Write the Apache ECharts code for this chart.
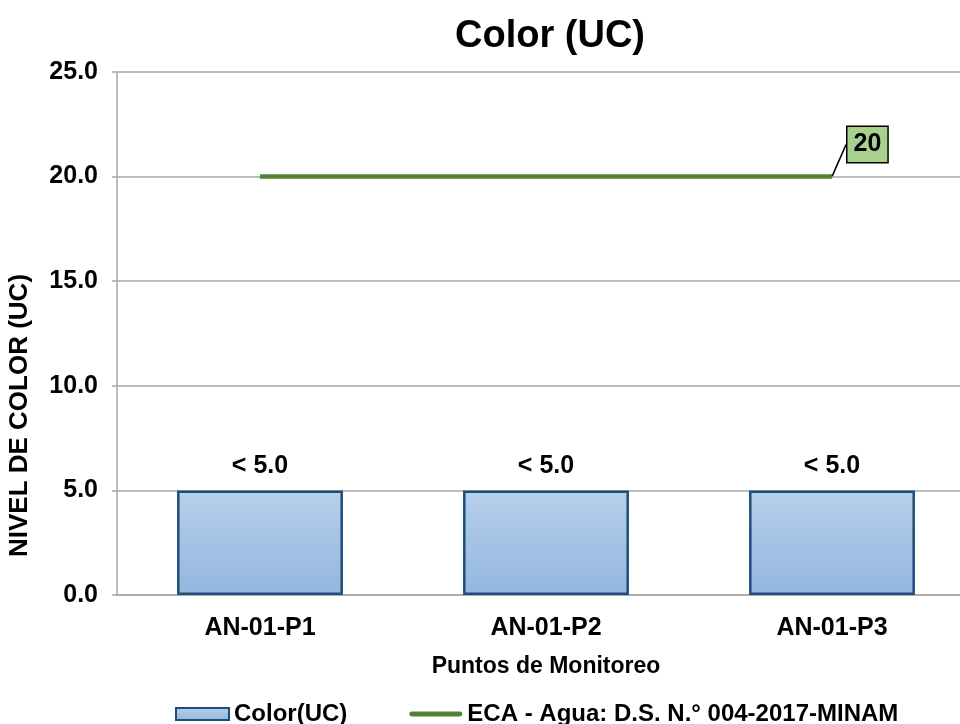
<!DOCTYPE html>
<html>
<head>
<meta charset="utf-8">
<script src="https://cdn.jsdelivr.net/npm/echarts@6/dist/echarts.min.js"></script>
<style>
  html, body { margin: 0; padding: 0; background: #ffffff; }
  #chart { width: 960px; height: 724px; }
</style>
</head>
<body>
<div id="chart"></div>
<script>
// Monitoring points and measured colour (UC)
const categories = ['AN-01-P1', 'AN-01-P2', 'AN-01-P3'];
const colorValues = [5.0, 5.0, 5.0];
const colorLabels = ['< 5.0', '< 5.0', '< 5.0'];
// Water quality standard (ECA) limit
const ecaValues = [20, 20, 20];
const ecaLabel = '20';
// Value axis range
const yMin = 0, yMax = 25, yStep = 5;

const FONT = "'Liberation Sans', Arial, Helvetica, sans-serif";
const GRID_GRAY = '#A6A6A6';
const ECA_GREEN = '#548235';

const chart = echarts.init(document.getElementById('chart'), null, { renderer: 'canvas' });

const barGradient = new echarts.graphic.LinearGradient(0, 0, 0, 1, [
  { offset: 0, color: '#B7CFEA' },
  { offset: 1, color: '#93B6E0' }
]);

// only the last point of the ECA line carries its value box
const lastIdx = ecaValues.length - 1;
const ecaData = ecaValues.map((v, i) => (
  i === lastIdx ? { value: v, label: { show: true } } : { value: v }
));

chart.setOption({
  animation: false,
  backgroundColor: '#ffffff',
  title: {
    text: 'Color (UC)',
    left: 545,
    textAlign: 'center',
    top: 13,
    textStyle: { fontFamily: FONT, fontWeight: 'bold', fontSize: 38, color: '#000' }
  },
  // plot area runs slightly past the right edge of the page
  grid: { left: 117, top: 72, right: -15, bottom: 129, containLabel: false, outerBoundsMode: 'none' },
  legend: {
    left: 170,
    top: 697,
    itemWidth: 53,
    itemHeight: 12,
    itemGap: 62,
    textStyle: { fontFamily: FONT, fontWeight: 'bold', fontSize: 24, color: '#000' },
    data: [
      { name: 'Color(UC)', icon: 'rect' },
      { name: 'ECA - Agua: D.S. N.° 004-2017-MINAM', icon: 'path://M2,0 L51,0 A2,2 0 0 1 51,5 L2,5 A2,2 0 0 1 2,0 Z' }
    ]
  },
  xAxis: {
    type: 'category',
    data: categories,
    name: 'Puntos de Monitoreo',
    nameLocation: 'middle',
    nameGap: 60,
    nameTextStyle: { fontFamily: FONT, fontWeight: 'bold', fontSize: 23, color: '#000' },
    axisLine: { show: true, lineStyle: { color: GRID_GRAY, width: 1.5 } },
    axisTick: { show: false },
    axisLabel: { margin: 21, fontFamily: FONT, fontWeight: 'bold', fontSize: 25, color: '#000' }
  },
  yAxis: {
    type: 'value',
    min: yMin,
    max: yMax,
    interval: yStep,
    name: 'NIVEL DE COLOR (UC)',
    nameLocation: 'middle',
    nameGap: 84,
    nameTextStyle: { fontFamily: FONT, fontWeight: 'bold', fontSize: 26, color: '#000', padding: [0, 164, 0, 0] },
    axisLine: { show: true, lineStyle: { color: GRID_GRAY, width: 1.5 } },
    axisTick: { show: true, length: 5, lineStyle: { color: GRID_GRAY, width: 1.5 } },
    splitLine: { show: true, lineStyle: { color: GRID_GRAY, width: 1.5 } },
    axisLabel: {
      margin: 19,
      fontFamily: FONT, fontWeight: 'bold', fontSize: 25, color: '#000',
      formatter: v => v.toFixed(1)
    }
  },
  series: [
    {
      name: 'Color(UC)',
      type: 'bar',
      data: colorValues,
      barWidth: '58%',
      itemStyle: { color: barGradient, borderColor: '#1F4E79', borderWidth: 2.5 },
      label: {
        show: true,
        position: 'top',
        distance: 12,
        fontFamily: FONT, fontWeight: 'bold', fontSize: 25, color: '#000',
        formatter: p => colorLabels[p.dataIndex]
      },
      z: 2
    },
    {
      name: 'ECA - Agua: D.S. N.° 004-2017-MINAM',
      type: 'line',
      data: ecaData,
      symbol: 'circle',
      symbolSize: 1,
      showSymbol: true,
      lineStyle: { color: ECA_GREEN, width: 4.5 },
      itemStyle: { color: ECA_GREEN },
      label: {
        show: false,
        position: 'right',
        distance: 0,
        fontFamily: FONT, fontWeight: 'bold', fontSize: 25, color: '#000',
        backgroundColor: '#A9D18E',
        borderColor: '#000',
        borderWidth: 1.5,
        padding: [6, 6, 4, 6],
        formatter: () => ecaLabel
      },
      labelLine: { show: true, lineStyle: { color: '#000', width: 1.5 } },
      labelLayout: { dx: 15, dy: -32 },
      z: 3
    }
  ]
});
</script>
</body>
</html>
